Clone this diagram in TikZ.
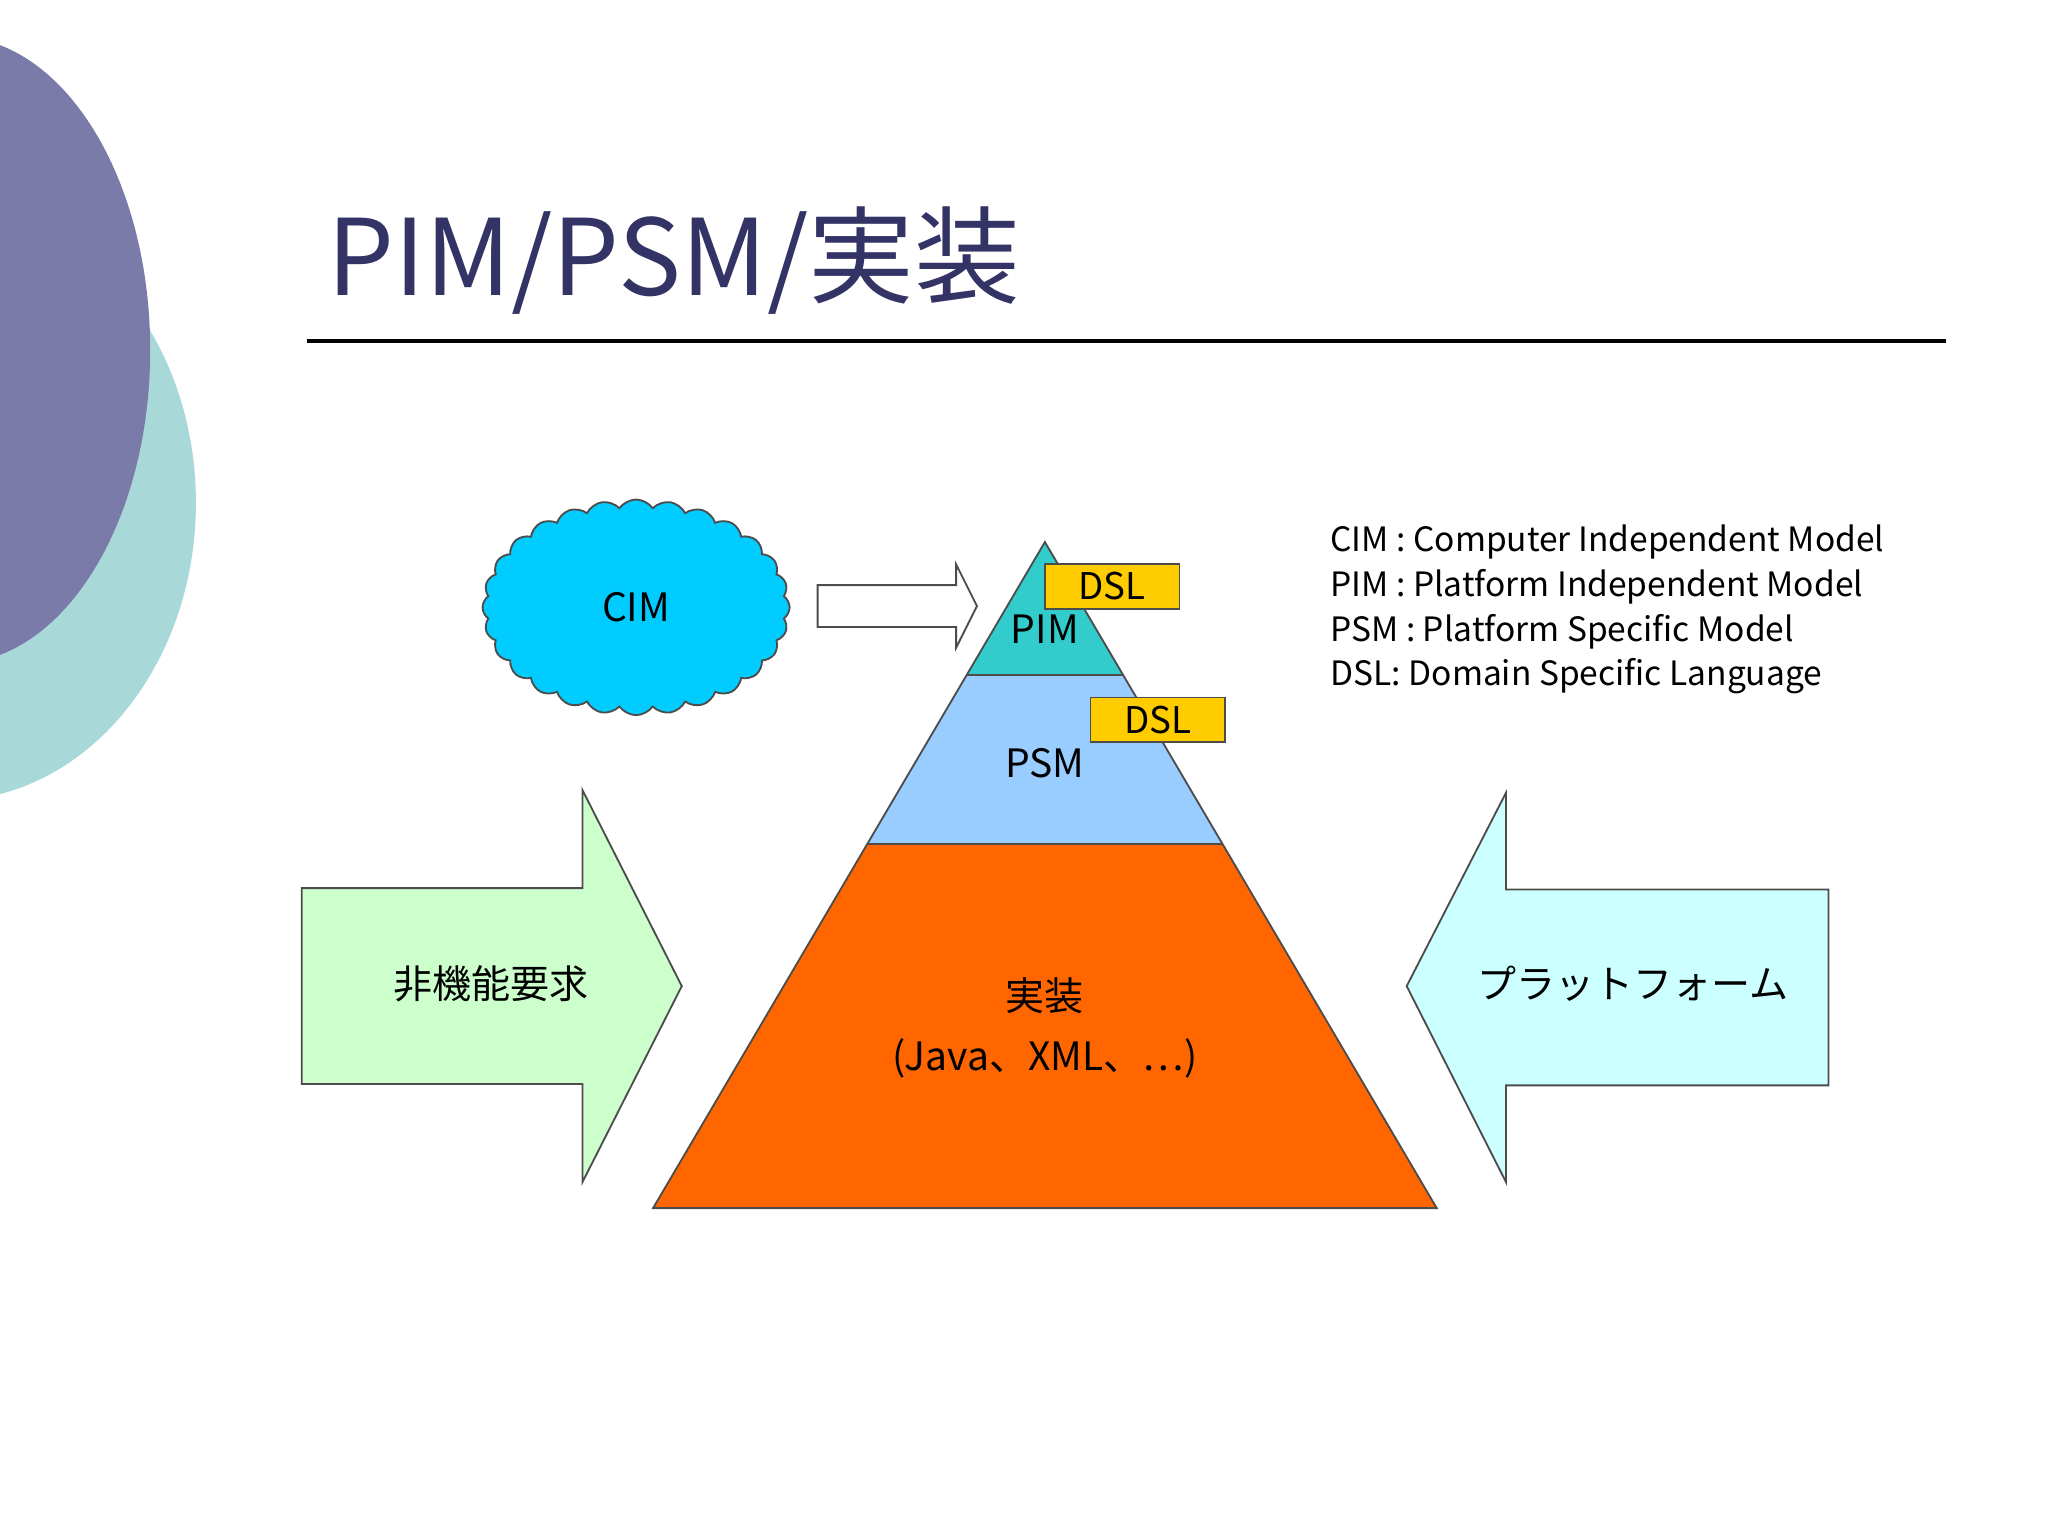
\documentclass[tikz,border=0pt]{standalone}
\usepackage{fontspec}
\setmainfont{Noto Sans CJK JP}
\usetikzlibrary{shapes.symbols}
\definecolor{ttl}{HTML}{333366}
\tikzset{lay/.style={draw=black!70,line width=0.4pt},
 dsl/.style={draw=black!70,fill={rgb,255:red,255;green,204;blue,0},minimum width=1.03cm,minimum height=0.34cm,inner sep=0pt,font=\fontsize{8}{9}\selectfont},
 lbl/.style={font=\fontsize{8.5}{10}\selectfont,inner sep=0pt},
 leg/.style={font=\fontsize{7.3}{9}\selectfont,anchor=west,inner sep=0pt}}
\begin{document}
\begin{tikzpicture}[x=0.01cm,y=-0.01cm]
\useasboundingbox (0,0) rectangle (1568,1176);
\fill[white] (0,0) rectangle (1568,1176);
\begin{scope}
\clip (0,0) rectangle (1568,1176);
\fill[color={rgb,255:red,168;green,216;blue,216}] (-40,385) ellipse [x radius=190, y radius=228];
\fill[color={rgb,255:red,123;green,123;blue,170}] (-35,268) ellipse [x radius=150, y radius=240];
\end{scope}
\node[anchor=base west,inner sep=0pt,text=ttl,font=\fontsize{23}{26}\selectfont] (title) at (250,226) {PIM/PSM/実装};
\coordinate (l1) at (235,261); \coordinate (l2) at (1490,261);
\draw[line width=0.8pt] (l1) -- (l2);
\node[cloud,cloud puffs=28,cloud puff arc=110,aspect=1.4,draw=black!70,fill={rgb,255:red,0;green,204;blue,255},minimum width=2.35cm,minimum height=1.65cm,lbl] (cim) at (487,465) {CIM};
\draw[lay,fill=white] (626,448) -- (732,448) -- (732,432) -- (748,464) -- (732,496) -- (732,480) -- (626,480) -- cycle;
% pyramid
\fill[color={rgb,255:red,255;green,102;blue,0}] (664,646) -- (936,646) -- (1100,925) -- (500,925) -- cycle;
\fill[color={rgb,255:red,153;green,204;blue,255}] (740,517) -- (860,517) -- (936,646) -- (664,646) -- cycle;
\fill[color={rgb,255:red,51;green,204;blue,204}] (800,415) -- (860,517) -- (740,517) -- cycle;
\draw[lay] (800,415) -- (1100,925) -- (500,925) -- cycle;
\draw[lay] (740,517) -- (860,517); \draw[lay] (664,646) -- (936,646);
\node[lbl] (pim) at (800,482) {PIM};
\node[lbl] (psm) at (800,584) {PSM};
\node[lbl,align=center] (impl) at (800,787) {実装\\[3pt](Java、XML、…)};
\node[dsl] (d1) at (851.5,449) {DSL};
\node[dsl] (d2) at (886.5,551) {DSL};
% side arrows
\draw[lay,fill={rgb,255:red,204;green,255;blue,204}] (231,680) -- (446,680) -- (446,605) -- (522,755) -- (446,905) -- (446,830) -- (231,830) -- cycle;
\node[lbl] (nf) at (376,753) {非機能要求};
\draw[lay,fill={rgb,255:red,204;green,255;blue,255}] (1400,681) -- (1153,681) -- (1153,607) -- (1077,755) -- (1153,905) -- (1153,831) -- (1400,831) -- cycle;
\node[lbl] (pf) at (1250,753) {プラットフォーム};
% legend
\node[leg] (g1) at (1018,415) {CIM : Computer Independent Model};
\node[leg] (g2) at (1018,449) {PIM : Platform Independent Model};
\node[leg] (g3) at (1018,484) {PSM : Platform Specific Model};
\node[leg] (g4) at (1018,518) {DSL: Domain Specific Language};
\end{tikzpicture}
\end{document}
